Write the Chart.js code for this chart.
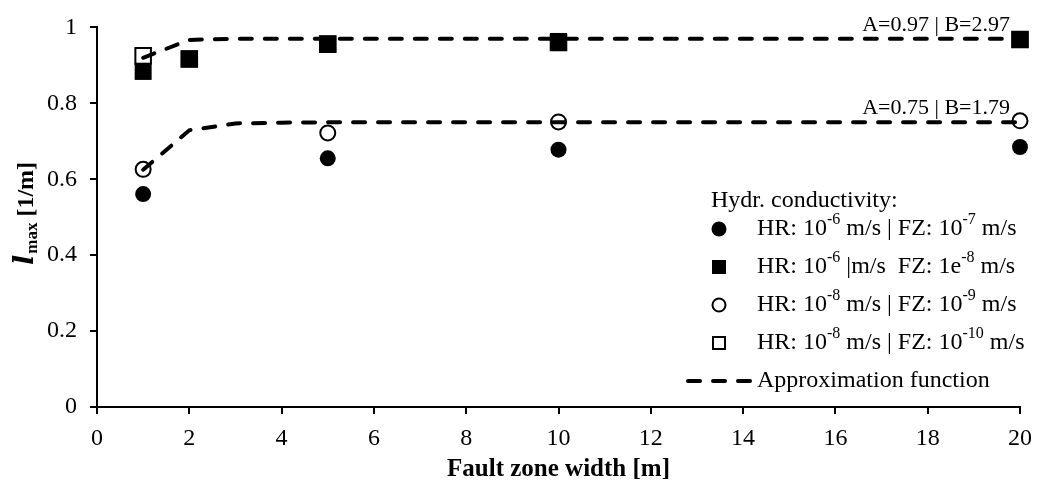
<!DOCTYPE html>
<html>
<head>
<meta charset="utf-8">
<script src="https://cdn.jsdelivr.net/npm/chart.js@4.4.1/dist/chart.umd.min.js"></script>
<style>
  html, body { margin: 0; padding: 0; background: #fff; }
  #wrap { width: 1043px; height: 489px; }
</style>
</head>
<body>
<div id="wrap"><canvas id="lmaxChart" width="1043" height="489"></canvas></div>
<script>
// Fault zone widths [m] and l_max [1/m] per conductivity case
const circleWidths = [1, 5, 10, 20];
const hr6fz7 = [0.561, 0.655, 0.678, 0.685];
const hr8fz9 = [0.626, 0.722, 0.751, 0.754];

const squareWidths = [1, 2, 5, 10, 20];
const hr6fz8 = [0.884, 0.917, 0.956, 0.963, 0.968];
const hr8fz10 = [0.925, 0.917, 0.956, 0.960, 0.968];

// Approximation function, A=0.97 | B=2.97 and A=0.75 | B=1.79
const approxWidths = [1, 2, 3, 4, 5, 10, 15, 20];
const approxUpper = [0.920, 0.967, 0.970, 0.970, 0.970, 0.970, 0.970, 0.970];
const approxLower = [0.625, 0.729, 0.747, 0.749, 0.750, 0.750, 0.750, 0.750];
const approxLabels = [
    { a: 0.97, text: 'A=0.97 | B=2.97' },
    { a: 0.75, text: 'A=0.75 | B=1.79' }
];

const xTicks = { min: 0, max: 20, step: 2 };
const yTicks = { min: 0, max: 1, step: 0.2 };

const SERIF = '"Liberation Serif", "Times New Roman", serif';

const pairs = (xs, ys) => xs.map((x, i) => ({ x: x, y: ys[i] }));

// text with superscript pieces, drawn left to right
const drawRich = (ctx, parts, x, y) => {
    let cx = x;
    parts.forEach(p => {
        ctx.font = p.sup ? '16px ' + SERIF : '24px ' + SERIF;
        ctx.fillText(p.t, cx, p.sup ? y - 9 : y);
        cx += ctx.measureText(p.t).width;
    });
};

const legendRows = [
    { marker: 'dot', parts: [{ t: 'HR: 10' }, { t: '-6', sup: true }, { t: ' m/s | FZ: 10' }, { t: '-7', sup: true }, { t: ' m/s' }] },
    { marker: 'box', parts: [{ t: 'HR: 10' }, { t: '-6', sup: true }, { t: ' |m/s  FZ: 1e' }, { t: '-8', sup: true }, { t: ' m/s' }] },
    { marker: 'ring', parts: [{ t: 'HR: 10' }, { t: '-8', sup: true }, { t: ' m/s | FZ: 10' }, { t: '-9', sup: true }, { t: ' m/s' }] },
    { marker: 'frame', parts: [{ t: 'HR: 10' }, { t: '-8', sup: true }, { t: ' m/s | FZ: 10' }, { t: '-10', sup: true }, { t: ' m/s' }] },
    { marker: 'dash', parts: [{ t: 'Approximation function' }] }
];

const decorations = {
    id: 'decorations',
    afterDraw(chart) {
        const ctx = chart.ctx;
        const xs = chart.scales.x;
        const ys = chart.scales.y;
        ctx.save();
        ctx.fillStyle = '#000';
        ctx.strokeStyle = '#000';

        // labels above the approximation curves
        ctx.font = '22px ' + SERIF;
        ctx.textAlign = 'right';
        ctx.textBaseline = 'alphabetic';
        approxLabels.forEach(l => {
            ctx.fillText(l.text, xs.getPixelForValue(20) - 10, ys.getPixelForValue(l.a) - 8);
        });

        // x axis title
        ctx.textAlign = 'center';
        ctx.textBaseline = 'middle';
        ctx.font = 'bold 25px ' + SERIF;
        ctx.fillText('Fault zone width [m]', (chart.chartArea.left + chart.chartArea.right) / 2, 470);

        // y axis title: l_max [1/m]
        ctx.save();
        ctx.translate(33, 214);
        ctx.rotate(-Math.PI / 2);
        ctx.textAlign = 'left';
        ctx.textBaseline = 'alphabetic';
        const fL = 'italic bold 27px "DejaVu Serif", serif';
        const fSub = 'bold 17px ' + SERIF;
        const fRest = 'bold 24px ' + SERIF;
        ctx.font = fL; const wL = ctx.measureText('l').width;
        ctx.font = fSub; const wSub = ctx.measureText('max').width;
        ctx.font = fRest; const wRest = ctx.measureText(' [1/m]').width;
        let tx = -(wL + wSub + wRest) / 2;
        ctx.font = fL;
        ctx.fillText('l', tx, 0);
        tx += wL + 1;
        ctx.font = fSub; ctx.fillText('max', tx, 4); tx += wSub;
        ctx.font = fRest; ctx.fillText(' [1/m]', tx, 0);
        ctx.restore();

        // legend
        ctx.textAlign = 'left';
        ctx.textBaseline = 'middle';
        ctx.font = '24px ' + SERIF;
        ctx.fillText('Hydr. conductivity:', 711, 201);
        legendRows.forEach((row, i) => {
            const y = 229 + i * 38;
            const mx = 719;
            ctx.lineWidth = 2;
            ctx.beginPath();
            if (row.marker === 'dot') {
                ctx.arc(mx, y, 7.5, 0, Math.PI * 2);
                ctx.fill();
            } else if (row.marker === 'box') {
                ctx.fillRect(mx - 7, y - 7, 14, 14);
            } else if (row.marker === 'ring') {
                ctx.arc(mx, y, 6.5, 0, Math.PI * 2);
                ctx.stroke();
            } else if (row.marker === 'frame') {
                ctx.rect(mx - 6, y - 6, 12, 12);
                ctx.stroke();
            } else {
                ctx.lineWidth = 4;
                ctx.lineCap = 'round';
                ctx.setLineDash([12, 13]);
                ctx.moveTo(688, y);
                ctx.lineTo(750, y);
                ctx.stroke();
                ctx.setLineDash([]);
            }
            drawRich(ctx, row.parts, 757, y);
        });
        ctx.restore();
    }
};

const approxStyle = {
    type: 'line',
    showLine: true,
    borderColor: '#000',
    borderWidth: 4,
    borderDash: [12, 13],
    borderCapStyle: 'round',
    pointRadius: 0,
    tension: 0,
    fill: false,
    clip: false,
    order: 0
};

new Chart(document.getElementById('lmaxChart'), {
    type: 'scatter',
    data: {
        datasets: [
            Object.assign({ label: 'Approximation function', data: pairs(approxWidths, approxUpper) }, approxStyle),
            Object.assign({ label: 'Approximation function (lower)', data: pairs(approxWidths, approxLower) }, approxStyle),
            {
                label: 'HR 1e-6 | FZ 1e-8',
                data: pairs(squareWidths, hr6fz8),
                pointStyle: 'rect',
                pointRadius: 12,
                backgroundColor: '#000',
                borderColor: '#000',
                borderWidth: 0,
                clip: false,
                order: 1
            },
            {
                label: 'HR 1e-8 | FZ 1e-10',
                data: pairs(squareWidths, hr8fz10),
                pointStyle: 'rect',
                pointRadius: 11,
                backgroundColor: '#fff',
                borderColor: '#000',
                borderWidth: 2,
                clip: false,
                order: 2
            },
            {
                label: 'HR 1e-8 | FZ 1e-9',
                data: pairs(circleWidths, hr8fz9),
                pointStyle: 'circle',
                pointRadius: 7.5,
                backgroundColor: '#fff',
                borderColor: '#000',
                borderWidth: 2,
                clip: false,
                order: 1
            },
            {
                label: 'HR 1e-6 | FZ 1e-7',
                data: pairs(circleWidths, hr6fz7),
                pointStyle: 'circle',
                pointRadius: 8,
                backgroundColor: '#000',
                borderColor: '#000',
                borderWidth: 0,
                clip: false,
                order: 2
            }
        ]
    },
    options: {
        responsive: false,
        animation: false,
        layout: { padding: { top: 22, right: 23, left: 0, bottom: 0 } },
        plugins: {
            legend: { display: false },
            tooltip: { enabled: false }
        },
        scales: {
            x: {
                type: 'linear',
                min: xTicks.min,
                max: xTicks.max,
                afterFit: s => { s.height = 82; },
                ticks: {
                    stepSize: xTicks.step,
                    color: '#000',
                    padding: 10,
                    maxRotation: 0,
                    font: { family: SERIF, size: 24 }
                },
                grid: { display: true, drawOnChartArea: false, drawTicks: true, tickLength: 7, color: '#000', lineWidth: 2 },
                border: { display: true, color: '#000', width: 2 }
            },
            y: {
                type: 'linear',
                min: yTicks.min,
                max: yTicks.max,
                afterFit: s => { s.width = 97; },
                ticks: {
                    stepSize: yTicks.step,
                    color: '#000',
                    padding: 13,
                    font: { family: SERIF, size: 24 },
                    callback: v => String(Math.round(v * 10) / 10)
                },
                grid: { display: true, drawOnChartArea: false, drawTicks: true, tickLength: 7, color: '#000', lineWidth: 2 },
                border: { display: true, color: '#000', width: 2 }
            }
        }
    },
    plugins: [decorations]
});
</script>
</body>
</html>
